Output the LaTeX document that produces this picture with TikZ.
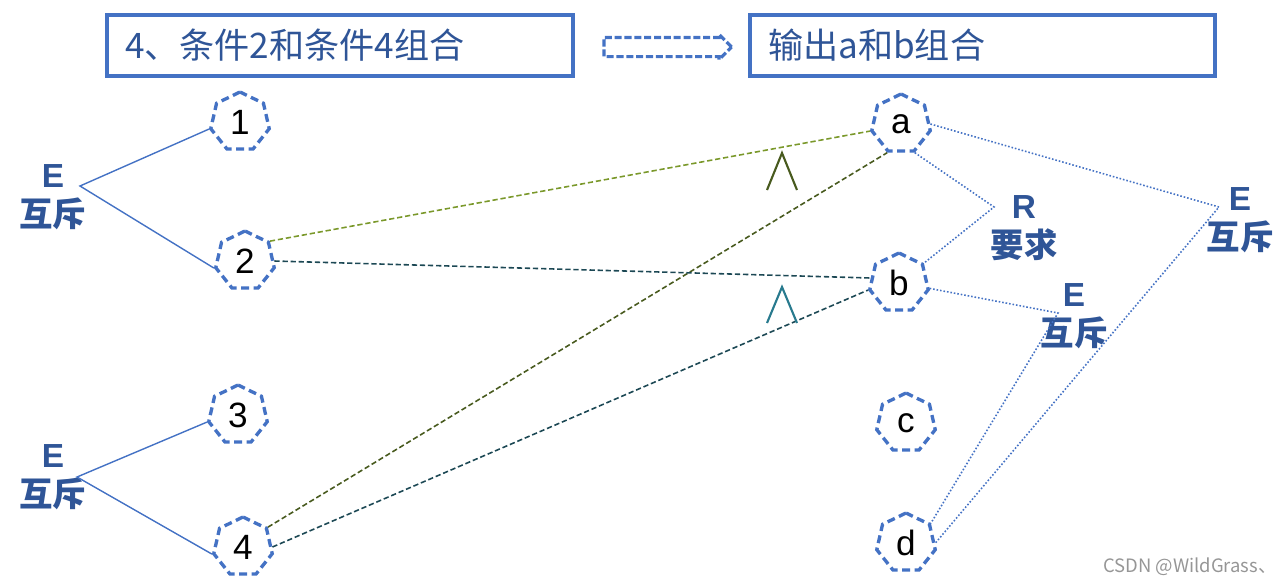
\documentclass[tikz,border=0pt]{standalone}
\usepackage{fontspec}
\setmainfont{Liberation Sans}
\newfontfamily\cjk{Noto Sans CJK SC}
\usetikzlibrary{shapes.geometric,shapes.arrows}
\definecolor{boxblue}{RGB}{68,114,196}
\definecolor{textblue}{RGB}{47,85,151}
\definecolor{olivelight}{RGB}{122,152,42}
\definecolor{olivedark}{RGB}{72,90,30}
\definecolor{tealdark}{RGB}{28,72,84}
\definecolor{teallight}{RGB}{40,122,142}
\definecolor{markgray}{RGB}{150,150,150}
\newcommand{\zh}[1]{{\cjk\bfseries #1}}
\tikzset{
  titlebox/.style ={rectangle, draw=boxblue, line width=1.8pt, minimum height=1.22cm,
                    inner xsep=0.36cm, align=left, text=textblue,
                    font=\cjk\fontsize{20}{22}\selectfont},
  hollowarrow/.style={single arrow, draw=boxblue, line width=1.8pt, dash pattern=on 4pt off 1.6pt,
                    minimum height=2.55cm, inner sep=0.16cm, single arrow head extend=0.06cm},
  hepta/.style    ={regular polygon, regular polygon sides=7, draw=boxblue, line width=1.9pt,
                    dash pattern=on 4.5pt off 2.6pt, minimum size=1.2cm, inner sep=0pt,
                    font=\fontsize{20}{22}\selectfont},
  lbl/.style      ={align=center, text=textblue, inner sep=1pt,
                    font=\bfseries\fontsize{19}{22}\selectfont},
  tie/.style      ={draw=boxblue, line width=0.8pt},
  tied/.style     ={draw=boxblue, line width=0.9pt, dash pattern=on 0.9pt off 1.1pt},
  pair/.style     ={line width=0.9pt, dash pattern=on 3pt off 1.6pt},
  andsign/.style  ={line width=1.2pt}
}
\begin{document}
\begin{tikzpicture}[x=0.02cm, y=-0.02cm]
\useasboundingbox (0,0) rectangle (1288,586);

% heading
\node[titlebox, text width=8.6cm] (t1) at (340,45.5) {4、条件2和条件4组合};
\node[hollowarrow] (go) at (663,47) {};
\node[titlebox, text width=8.58cm] (t2) at (982.5,45.5) {输出a和b组合};

% conditions and outputs
\foreach \n/\x/\y in {1/240/122, 2/245/261, 3/238/415, 4/243/547,
                      a/901/124, b/899/283, c/906/423, d/906/543}
  \node[hepta] (n\n) at (\x,\y) {\n};

% relation labels
\node[lbl] (eL1) at (53,197) {E\\\zh{互斥}};
\node[lbl] (eL2) at (53,477) {E\\\zh{互斥}};
\node[lbl] (rq)  at (1024,228) {R\\\zh{要求}};
\node[lbl] (eR)  at (1240,220) {E\\\zh{互斥}};
\node[lbl] (eM)  at (1074,316) {E\\\zh{互斥}};
\coordinate (jL1) at (80,186);
\coordinate (jL2) at (77,477);
\coordinate (jR)  at (994,207);
\coordinate (jE1) at (1219,207);
\coordinate (jE2) at (1058,313);

\draw[tie] (n1.corner 3) -- (jL1) -- (n2.corner 3);
\draw[tie] (n3.corner 3) -- (jL2) -- (n4.corner 3);
\draw[tied] (na.corner 5) -- (jR) -- (nb.corner 7);
\draw[tied] (na.east) -- (jE1) -- (nd.east);
\draw[tied] (nb.350) -- (jE2) -- (nd.corner 7);

% pairings
\draw[pair, olivelight] (n2.corner 7) -- (na.corner 3);
\draw[pair, olivedark]  (n4.corner 7) -- (na.corner 4);
\draw[pair, tealdark]   (n2.east) -- (nb.170);
\draw[pair, tealdark]   (n4.east) -- (nb.corner 3);

% and signs
\draw[andsign, olivedark] (767,190) -- (782,153) -- (797,190);
\draw[andsign, teallight] (767,323) -- (782,287) -- (797,323);

\node[text=markgray, font=\cjk\fontsize{10.5}{12}\selectfont] (wm) at (1190,567) {CSDN @WildGrass、};
\end{tikzpicture}
\end{document}
